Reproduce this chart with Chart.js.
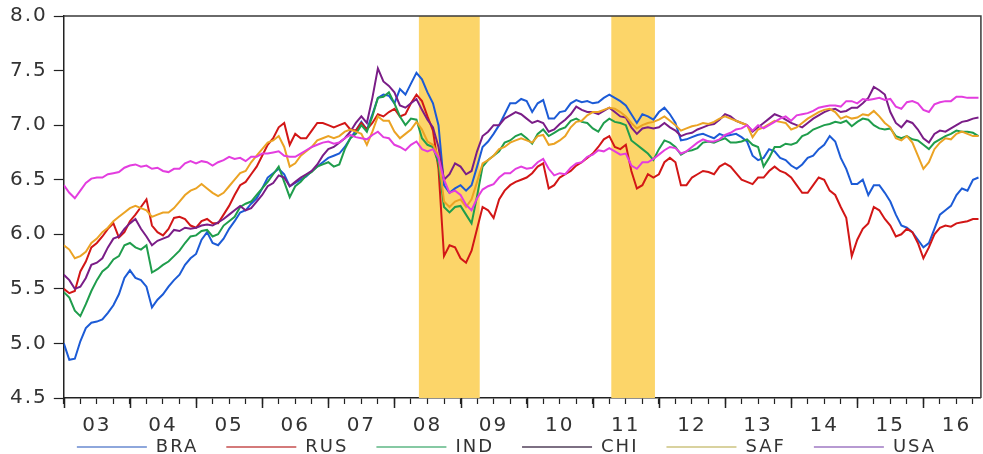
<!DOCTYPE html>
<html>
<head>
<meta charset="utf-8">
<script src="https://cdn.jsdelivr.net/npm/chart.js@4.4.1/dist/chart.umd.min.js"></script>
<style>
  html, body { margin: 0; padding: 0; background: #ffffff; overflow: hidden; }
  #wrap { width: 983px; height: 454px; position: relative; }
</style>
</head>
<body>
<div id="wrap"><canvas id="c"></canvas></div>
<script>
// Log stock price indices, monthly, Jan 2003 - Nov 2016
const seriesNames = ['BRA', 'RUS', 'IND', 'CHI', 'SAF', 'USA'];
const lineColors = ['#1c5bd6', '#d21616', '#1f9d4c', '#7a1d87', '#eba324', '#e33ddf'];
const legendColors = ['#8ea7dc', '#d47a7a', '#86c9a3', '#7d7083', '#d9d29f', '#b79ad2'];
const yearLabels = ['03','04','05','06','07','08','09','10','11','12','13','14','15','16'];
const firstYear = 2003;
const bandStarts = [2008.37, 2011.28];
const bandEnds = [2009.29, 2011.94];

const bra = [
  5.00, 4.85, 4.86, 5.02, 5.14, 5.19, 5.20, 5.22, 5.28, 5.35, 5.45, 5.60,
  5.67, 5.60, 5.58, 5.52, 5.33, 5.40, 5.45, 5.52, 5.58, 5.63, 5.72, 5.78,
  5.82, 5.95, 6.02, 5.92, 5.90, 5.96, 6.05, 6.12, 6.20, 6.22, 6.28, 6.33,
  6.42, 6.52, 6.56, 6.60, 6.55, 6.44, 6.47, 6.50, 6.53, 6.58, 6.62, 6.66,
  6.70, 6.72, 6.74, 6.80, 6.88, 6.95, 7.03, 6.96, 7.10, 7.25, 7.28, 7.27,
  7.20, 7.33, 7.28, 7.38, 7.48, 7.42, 7.30, 7.20, 7.00, 6.45, 6.38, 6.42,
  6.45, 6.40, 6.45, 6.62, 6.80, 6.85, 6.92, 7.00, 7.10, 7.20, 7.20, 7.24,
  7.22, 7.12, 7.20, 7.23, 7.06, 7.06, 7.12, 7.13, 7.20, 7.23, 7.21, 7.22,
  7.20, 7.21, 7.25, 7.28, 7.25, 7.22, 7.18, 7.10, 7.02, 7.10, 7.08, 7.05,
  7.12, 7.16, 7.10, 7.02, 6.86, 6.87, 6.89, 6.91, 6.92, 6.90, 6.88, 6.92,
  6.90, 6.91, 6.92, 6.89, 6.85, 6.72, 6.68, 6.70, 6.78, 6.76, 6.70, 6.68,
  6.63, 6.60, 6.64, 6.70, 6.72, 6.78, 6.82, 6.90, 6.85, 6.70, 6.60, 6.46,
  6.46, 6.50, 6.36, 6.45, 6.45, 6.38, 6.30, 6.18, 6.08, 6.06, 6.02, 5.95,
  5.88, 5.92, 6.05, 6.18, 6.22, 6.26, 6.36, 6.42, 6.40, 6.50, 6.52
];
const rus = [
  5.50, 5.46, 5.48, 5.66, 5.75, 5.88, 5.92, 5.98, 6.05, 6.10, 5.97, 6.02,
  6.12, 6.18, 6.25, 6.32, 6.08, 6.02, 5.99, 6.05, 6.15, 6.16, 6.14, 6.08,
  6.06, 6.12, 6.14, 6.10, 6.10, 6.18, 6.26, 6.36, 6.45, 6.48, 6.55, 6.62,
  6.72, 6.82, 6.88, 6.98, 7.02, 6.82, 6.92, 6.88, 6.88, 6.95, 7.02, 7.02,
  7.00, 6.98, 7.00, 7.02, 6.96, 6.95, 7.02, 6.96, 7.02, 7.10, 7.08, 7.12,
  7.15, 7.08, 7.10, 7.20, 7.28, 7.22, 7.08, 6.95, 6.60, 5.80, 5.90, 5.88,
  5.78, 5.74, 5.85, 6.05, 6.25, 6.22, 6.15, 6.32, 6.40, 6.45, 6.48, 6.50,
  6.52, 6.56, 6.62, 6.65, 6.42, 6.45, 6.52, 6.55, 6.58, 6.63, 6.66, 6.70,
  6.74, 6.80, 6.87, 6.90, 6.80, 6.78, 6.82, 6.58, 6.42, 6.45, 6.55, 6.52,
  6.55, 6.66, 6.70, 6.66, 6.45, 6.45, 6.52, 6.55, 6.58, 6.57, 6.55, 6.62,
  6.65, 6.62, 6.56, 6.50, 6.48, 6.46, 6.52, 6.52, 6.58, 6.62, 6.58, 6.56,
  6.52, 6.45, 6.38, 6.38, 6.45, 6.52, 6.50, 6.40, 6.36, 6.25, 6.15, 5.80,
  5.95, 6.05, 6.10, 6.25, 6.22, 6.14, 6.08, 5.98, 6.00, 6.05, 6.02, 5.92,
  5.78, 5.88, 6.00, 6.06, 6.08, 6.07, 6.10, 6.11, 6.12, 6.14, 6.14
];
const ind = [
  5.47, 5.42, 5.30, 5.25, 5.36, 5.48, 5.58, 5.66, 5.70, 5.77, 5.80, 5.90,
  5.92, 5.88, 5.86, 5.90, 5.65, 5.68, 5.72, 5.75, 5.80, 5.85, 5.92, 5.98,
  5.99, 6.03, 6.04, 5.98, 6.00, 6.08, 6.12, 6.16, 6.25, 6.28, 6.30, 6.36,
  6.42, 6.48, 6.55, 6.62, 6.48, 6.34, 6.44, 6.48, 6.54, 6.57, 6.62, 6.64,
  6.66, 6.62, 6.64, 6.78, 6.88, 6.92, 7.00, 6.94, 7.08, 7.25, 7.26, 7.30,
  7.20, 7.08, 7.00, 7.06, 7.05, 6.88, 6.82, 6.80, 6.65, 6.25, 6.20, 6.25,
  6.26, 6.18, 6.10, 6.35, 6.62, 6.68, 6.72, 6.76, 6.84, 6.86, 6.90, 6.92,
  6.88, 6.83, 6.92, 6.96, 6.90, 6.93, 6.96, 6.98, 7.04, 7.06, 7.03, 7.02,
  6.97, 6.94, 7.02, 7.06, 7.03, 7.02, 7.00, 6.86, 6.82, 6.78, 6.74, 6.68,
  6.78, 6.86, 6.84, 6.80, 6.73, 6.76, 6.77, 6.79, 6.84, 6.85, 6.84, 6.86,
  6.88, 6.84, 6.84, 6.85, 6.87, 6.82, 6.80, 6.62, 6.70, 6.80, 6.80, 6.83,
  6.82, 6.84, 6.90, 6.92, 6.96, 6.98, 7.00, 7.01, 7.03, 7.02, 7.04, 6.99,
  7.03, 7.06, 7.05, 7.00, 6.97, 6.96, 6.97, 6.90, 6.88, 6.90, 6.87, 6.86,
  6.82, 6.78, 6.84, 6.87, 6.90, 6.92, 6.95, 6.94, 6.94, 6.93, 6.90
];
const chi = [
  5.63, 5.58, 5.50, 5.52, 5.60, 5.72, 5.74, 5.78, 5.88, 5.96, 5.98, 6.05,
  6.10, 6.14, 6.05, 5.98, 5.90, 5.94, 5.96, 5.98, 6.04, 6.03, 6.06, 6.05,
  6.06, 6.08, 6.09, 6.08, 6.11, 6.14, 6.18, 6.22, 6.26, 6.22, 6.24, 6.30,
  6.36, 6.44, 6.47, 6.54, 6.52, 6.44, 6.48, 6.52, 6.55, 6.58, 6.64, 6.72,
  6.78, 6.80, 6.84, 6.88, 6.94, 7.02, 7.08, 7.02, 7.25, 7.52, 7.40, 7.36,
  7.30, 7.18, 7.16, 7.20, 7.24, 7.14, 7.05, 6.98, 6.80, 6.50, 6.55, 6.65,
  6.62, 6.55, 6.58, 6.76, 6.90, 6.94, 7.00, 7.00, 7.06, 7.09, 7.12, 7.10,
  7.06, 7.02, 7.04, 7.02, 6.94, 6.96, 7.01, 7.05, 7.10, 7.17, 7.14, 7.12,
  7.12, 7.10, 7.13, 7.16, 7.12, 7.08, 7.07, 6.98, 6.92, 6.97, 6.98, 6.97,
  6.98, 7.02, 6.98, 6.95, 6.90, 6.92, 6.93, 6.96, 6.98, 7.00, 7.01, 7.05,
  7.10, 7.08, 7.04, 7.02, 7.00, 6.94, 6.98, 7.02, 7.06, 7.10, 7.08, 7.05,
  7.02, 7.00, 6.98, 7.02, 7.06, 7.09, 7.12, 7.14, 7.15, 7.12, 7.13, 7.16,
  7.16, 7.20, 7.25, 7.35, 7.32, 7.28, 7.12, 7.02, 6.98, 7.04, 7.02, 6.96,
  6.88, 6.84, 6.92, 6.95, 6.94, 6.97, 7.00, 7.03, 7.04, 7.06, 7.07
];
const saf = [
  5.90, 5.86, 5.78, 5.80, 5.84, 5.92, 5.96, 6.02, 6.06, 6.12, 6.16, 6.20,
  6.24, 6.26, 6.24, 6.22, 6.16, 6.18, 6.20, 6.20, 6.24, 6.30, 6.36, 6.40,
  6.42, 6.46, 6.42, 6.38, 6.35, 6.38, 6.44, 6.50, 6.56, 6.58, 6.66, 6.72,
  6.78, 6.84, 6.86, 6.90, 6.80, 6.62, 6.65, 6.72, 6.76, 6.80, 6.86, 6.88,
  6.90, 6.88, 6.90, 6.94, 6.96, 6.94, 6.92, 6.82, 6.94, 7.08, 7.04, 7.04,
  6.94, 6.88, 6.92, 6.96, 7.03, 6.96, 6.85, 6.82, 6.72, 6.30, 6.25, 6.30,
  6.32, 6.25, 6.32, 6.48, 6.65, 6.68, 6.72, 6.78, 6.80, 6.84, 6.86, 6.88,
  6.86, 6.84, 6.90, 6.91, 6.82, 6.83, 6.86, 6.90, 6.98, 7.03, 7.04, 7.09,
  7.12, 7.12, 7.14, 7.16, 7.15, 7.12, 7.08, 7.02, 6.97, 7.00, 7.02, 7.03,
  7.05, 7.08, 7.04, 7.00, 6.95, 6.97, 6.99, 7.00, 7.02, 7.01, 7.03, 7.06,
  7.08, 7.06, 7.04, 7.02, 7.00, 6.89, 6.96, 6.98, 7.01, 7.04, 7.03, 7.02,
  6.96, 6.98, 7.02, 7.06, 7.09, 7.12, 7.14, 7.15, 7.12, 7.06, 7.08, 7.06,
  7.07, 7.10, 7.09, 7.13, 7.08, 7.02, 6.98, 6.88, 6.86, 6.90, 6.84, 6.72,
  6.60, 6.66, 6.78, 6.84, 6.88, 6.87, 6.92, 6.94, 6.92, 6.90, 6.90
];
const usa = [
  6.45, 6.38, 6.33, 6.40, 6.47, 6.51, 6.52, 6.52, 6.55, 6.56, 6.57, 6.61,
  6.63, 6.64, 6.62, 6.63, 6.60, 6.61, 6.58, 6.57, 6.60, 6.60, 6.65, 6.67,
  6.65, 6.67, 6.66, 6.63, 6.66, 6.68, 6.71, 6.69, 6.70, 6.67, 6.71, 6.71,
  6.74, 6.74, 6.75, 6.76, 6.72, 6.71, 6.71, 6.74, 6.77, 6.80, 6.82, 6.84,
  6.85, 6.83, 6.84, 6.88, 6.91, 6.89, 6.88, 6.87, 6.91, 6.94, 6.89, 6.88,
  6.82, 6.80, 6.77, 6.82, 6.85, 6.78, 6.76, 6.78, 6.70, 6.50, 6.38, 6.40,
  6.36, 6.27, 6.22, 6.33, 6.41, 6.44, 6.46, 6.52, 6.56, 6.56, 6.60, 6.62,
  6.60, 6.61, 6.66, 6.69, 6.60, 6.54, 6.56, 6.55, 6.61, 6.65, 6.66, 6.71,
  6.73, 6.77, 6.76, 6.79, 6.76, 6.73, 6.74, 6.63, 6.60, 6.66, 6.66, 6.69,
  6.73, 6.77, 6.80, 6.79, 6.74, 6.76, 6.80, 6.84, 6.87, 6.85, 6.85, 6.87,
  6.91, 6.93, 6.96, 6.97, 7.00, 6.95, 7.00, 6.97, 7.00, 7.03, 7.06, 7.08,
  7.04, 7.09, 7.10, 7.11, 7.13, 7.16, 7.17, 7.18, 7.18, 7.17, 7.22, 7.22,
  7.20, 7.24, 7.23, 7.24, 7.25, 7.23, 7.24, 7.17, 7.15, 7.21, 7.22, 7.20,
  7.14, 7.12, 7.19, 7.21, 7.22, 7.22, 7.26, 7.26, 7.25, 7.25, 7.25
];

const seriesValues = [bra, rus, ind, chi, saf, usa];

// decimal-year position of each monthly observation
const months = bra.map((_, k) => firstYear + k / 12);

const datasets = seriesValues.map((vals, i) => ({
  label: seriesNames[i],
  data: vals.map((v, k) => ({ x: months[k], y: v })),
  borderColor: lineColors[i],
  backgroundColor: lineColors[i],
  borderWidth: 2,
  pointRadius: 0,
  tension: 0,
  fill: false,
  order: seriesValues.length - 1 - i
}));

const FONT = "'DejaVu Sans', 'Verdana', sans-serif";

// wide text spacing for every label on the canvas
const spacingPlugin = {
  id: 'spacing',
  beforeLayout(chart) { chart.ctx.letterSpacing = '2px'; },
  beforeDraw(chart) { chart.ctx.letterSpacing = '2px'; }
};

// legend row sits just under the year labels, a little right of centre
const legendPlacePlugin = {
  id: 'legendPlace',
  afterLayout(chart) {
    const lg = chart.legend;
    if (!lg) return;
    lg.top = chart.chartArea.bottom + 12;
    lg.bottom = lg.top + 60;
    lg.left += 14; lg.right += 14;
  }
};

// shaded crisis periods behind the lines
const bandPlugin = {
  id: 'bands',
  beforeDatasetsDraw(chart) {
    const { ctx, chartArea, scales } = chart;
    ctx.save();
    ctx.fillStyle = '#fcd569';
    bandStarts.forEach((s, i) => {
      const x0 = scales.x.getPixelForValue(s);
      const x1 = scales.x.getPixelForValue(bandEnds[i]);
      ctx.fillRect(x0, chartArea.top, x1 - x0, chartArea.bottom - chartArea.top);
    });
    ctx.restore();
  }
};

// frame on top/right and the longer year ticks on the time axis
const framePlugin = {
  id: 'frame',
  afterDraw(chart) {
    const { ctx, chartArea, scales } = chart;
    ctx.save();
    ctx.strokeStyle = '#3a3a3a';
    ctx.lineWidth = 1.5;
    ctx.beginPath();
    ctx.moveTo(chartArea.left, chartArea.top);
    ctx.lineTo(chartArea.right, chartArea.top);
    ctx.lineTo(chartArea.right, chartArea.bottom);
    ctx.stroke();
    ctx.strokeStyle = '#222';
    ctx.lineWidth = 1.5;
    ctx.beginPath();
    yearLabels.forEach((_, i) => {
      const x = Math.round(scales.x.getPixelForValue(firstYear + i)) + 0.5;
      ctx.moveTo(x, chartArea.bottom);
      ctx.lineTo(x, chartArea.bottom + 10);
    });
    ctx.stroke();
    ctx.restore();
  }
};

new Chart(document.getElementById('c'), {
  type: 'line',
  data: { datasets },
  plugins: [spacingPlugin, legendPlacePlugin, bandPlugin, framePlugin],
  options: {
    responsive: true,
    maintainAspectRatio: false,
    animation: false,
    events: [],
    layout: { padding: { left: 4, right: 2, top: 4, bottom: -12 } },
    scales: {
      x: {
        type: 'linear',
        min: 2003,
        max: 2016.87,
        border: { display: true, color: '#222', width: 1.5 },
        grid: { drawOnChartArea: false, drawTicks: true, tickLength: 6, tickColor: '#222', tickWidth: 1.2 },
        ticks: {
          stepSize: 0.25,
          includeBounds: false,
          autoSkip: false,
          maxRotation: 0,
          padding: 10,
          color: '#333',
          font: { family: FONT, size: 20 },
          callback(value) {
            const frac = value - Math.floor(value);
            if (Math.abs(frac - 0.5) < 1e-6) {
              return yearLabels[Math.floor(value) - firstYear] || '';
            }
            return '';
          }
        }
      },
      y: {
        min: 4.5,
        max: 8.0,
        border: { display: true, color: '#222', width: 1.5 },
        grid: { drawOnChartArea: false, drawTicks: true, tickLength: 10, tickColor: '#222', tickWidth: 1.2 },
        ticks: {
          stepSize: 0.5,
          padding: 6,
          color: '#333',
          font: { family: FONT, size: 20, lineHeight: 1 },
          callback(value) { return value.toFixed(1); }
        }
      }
    },
    plugins: {
      tooltip: { enabled: false },
      legend: {
        display: true,
        position: 'bottom',
        align: 'center',
        maxHeight: 18,
        labels: {
          boxWidth: 70,
          boxHeight: 2,
          padding: 28,
          color: '#333',
          font: { family: FONT, size: 18 },
          generateLabels() {
            return seriesNames.map((name, i) => ({
              text: name,
              fillStyle: legendColors[i],
              strokeStyle: legendColors[i],
              lineWidth: 0,
              hidden: false,
              datasetIndex: i,
              fontColor: '#333'
            }));
          }
        }
      }
    }
  }
});
</script>
</body>
</html>
